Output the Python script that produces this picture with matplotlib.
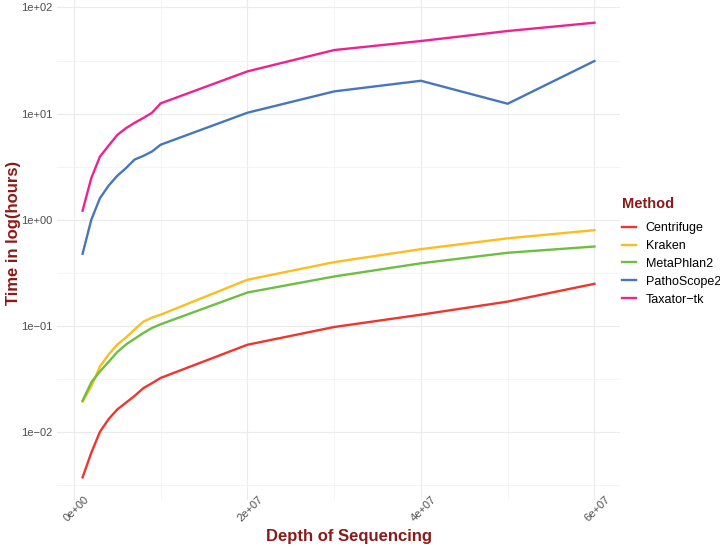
import numpy as np
import matplotlib
matplotlib.use("Agg")
import matplotlib.pyplot as plt
import matplotlib.transforms as mtrans
from matplotlib.ticker import FixedLocator, NullFormatter

plt.rcParams['font.family'] = ['Liberation Sans', 'DejaVu Sans']

depth = [1e6, 2e6, 3e6, 4e6, 5e6, 6e6, 7e6, 8e6, 9e6, 1e7, 2e7, 3e7, 4e7, 5e7, 6e7]

centrifuge = [0.00377, 0.0064, 0.0101, 0.0133, 0.0164, 0.019, 0.022, 0.026, 0.029, 0.0325,
              0.0667, 0.098, 0.128, 0.17, 0.25]
kraken = [0.0195, 0.027, 0.0417, 0.054, 0.067, 0.078, 0.093, 0.110, 0.120, 0.128,
          0.273, 0.40, 0.53, 0.67, 0.80]
metaphlan2 = [0.0198, 0.0295, 0.0374, 0.046, 0.057, 0.067, 0.076, 0.086, 0.096, 0.104,
              0.207, 0.293, 0.39, 0.49, 0.561]
pathoscope2 = [0.48, 1.0, 1.6, 2.1, 2.6, 3.07, 3.7, 4.0, 4.4, 5.1,
               10.2, 16.2, 20.4, 12.4, 31.3]
taxator = [1.22, 2.47, 3.94, 5.0, 6.3, 7.3, 8.2, 9.1, 10.2, 12.5,
           25.0, 39.7, 48.3, 60.0, 71.8]

methods = ['Centrifuge', 'Kraken', 'MetaPhlan2', 'PathoScope2', 'Taxator\u2212tk']
series = [centrifuge, kraken, metaphlan2, pathoscope2, taxator]
colors = ['#F0352E', '#FDBD1E', '#6CBF40', '#4676BF', '#EE2290']

x_ticks = [0, 2e7, 4e7, 6e7]
x_labels = ['0e+00', '2e+07', '4e+07', '6e+07']
y_ticks = [1e-2, 1e-1, 1e0, 1e1, 1e2]
y_labels = ['1e\u221202', '1e\u221201', '1e+00', '1e+01', '1e+02']

title_col = '#8B1A1A'
grid_col = '#EBEBEB'

fig = plt.figure(figsize=(7.2, 5.47), dpi=100)
ax = fig.add_axes([57 / 720, 1 - 500 / 547, (620 - 57) / 720, 500 / 547])

for name, vals, c in zip(methods, series, colors):
    ax.plot(depth, vals, color=c, lw=1.7, label=name, solid_joinstyle='round')

ax.set_yscale('log')

# ggplot style 5% expansion
xmin, xmax = min(depth), max(depth)
dx = (xmax - xmin) * 0.05
ax.set_xlim(xmin - dx, xmax + dx)
allv = np.log10(np.concatenate([np.array(s) for s in series]))
lo, hi = allv.min(), allv.max()
dy = (hi - lo) * 0.05
ax.set_ylim(10 ** (lo - dy), 10 ** (hi + dy))

ax.xaxis.set_major_locator(FixedLocator(x_ticks))
ax.xaxis.set_minor_locator(FixedLocator([1e7, 3e7, 5e7]))
ax.set_xticklabels(x_labels)
ax.yaxis.set_major_locator(FixedLocator(y_ticks))
ax.yaxis.set_minor_locator(FixedLocator([10 ** -2.5, 10 ** -1.5, 10 ** -0.5, 10 ** 0.5, 10 ** 1.5]))
ax.yaxis.set_minor_formatter(NullFormatter())
ax.set_yticklabels(y_labels)

ax.grid(True, which='major', color=grid_col, lw=0.8)
ax.grid(True, which='minor', color='#F2F2F2', lw=0.6)
ax.set_axisbelow(True)
for s in ax.spines.values():
    s.set_visible(False)
ax.tick_params(which='both', length=0)
ax.tick_params(axis='y', labelsize=8, labelcolor='#4D4D4D', pad=3)
ax.tick_params(axis='x', labelsize=8, labelcolor='#4D4D4D', pad=-4)
shift = mtrans.ScaledTranslation(3 / 100, 0, fig.dpi_scale_trans)
for lab in ax.get_xticklabels():
    lab.set_rotation(45)
    lab.set_ha('center')
    lab.set_va('top')
    lab.set_transform(lab.get_transform() + shift)

ax.set_xlabel('Depth of Sequencing', fontsize=12, fontweight='bold', color=title_col, va='center')
ax.xaxis.set_label_coords((349 - 57) / 563, (500 - 537) / 500)
ax.set_ylabel('Time in log(hours)', fontsize=12, fontweight='bold', color=title_col, va='center')
ax.yaxis.set_label_coords((14 - 57) / 563, (500 - 233) / 500)

leg = ax.legend(loc='upper left', bbox_to_anchor=(622 / 720, 1 - 197 / 547),
                bbox_transform=fig.transFigure, frameon=False, title='Method',
                fontsize=9, handlelength=1.15, handletextpad=0.75, labelspacing=0.47,
                alignment='left', borderaxespad=0, borderpad=0)
leg.get_title().set_fontweight('bold')
leg.get_title().set_color(title_col)
leg.get_title().set_fontsize(10.5)
leg._legend_box.sep = 8

fig.savefig('out.png', dpi=100)
